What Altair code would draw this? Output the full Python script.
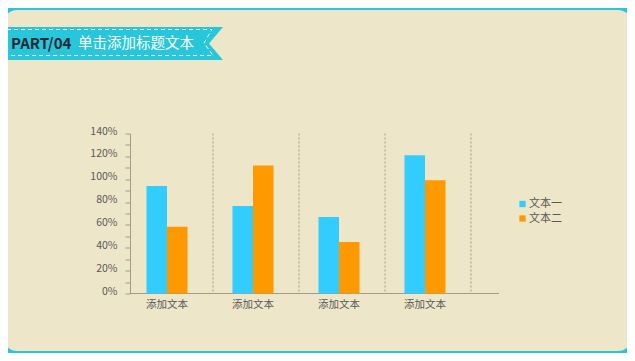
import altair as alt
import pandas as pd

categories = ["添加文本", "添加文本 ", "添加文本  ", "添加文本   "]
series_names = ["文本一", "文本二"]
series1 = [94, 76.5, 67, 121]
series2 = [58.5, 112, 45, 99]
y_ticks = [0, 10, 20, 30, 40, 50, 60, 70, 80, 90, 100, 110, 120, 130, 140]
colors = ["#33CCFF", "#FF9900"]

rows = []
for i, c in enumerate(categories):
    rows.append({"cat": c, "series": series_names[0], "value": series1[i]})
    rows.append({"cat": c, "series": series_names[1], "value": series2[i]})
df = pd.DataFrame(rows)
cat_df = pd.DataFrame({"cat": categories})

FONT = "Noto Sans CJK SC"
CYAN = "#27C6DA"
BEIGE = "#EEE6C9"
AXIS = "#A09C8C"
LABEL = "#595959"

one = alt.Data(values=[{}])

xscale = alt.Scale(domain=categories, range=[-6, 338], paddingInner=0, paddingOuter=0)
xaxis = alt.Axis(title=None, domain=False, ticks=False, labelAngle=0,
                 labelFont=FONT, labelFontSize=10.5, labelColor=LABEL,
                 labelPadding=6, zindex=1, labelExpr="trim(datum.label)")

panel = alt.Chart(one).mark_rect(color=BEIGE, cornerRadius=13).encode(
    x=alt.value(-126), x2=alt.value(501), y=alt.value(-123.5), y2=alt.value(217.5)
)

ribbon = alt.Chart(one).mark_point(
    shape="M0,0 H223 L209,16.5 L223,33 H0 Z", size=4, filled=True, fill=CYAN,
    opacity=1, strokeWidth=0
).encode(x=alt.value(-130), y=alt.value(-106.5))

ribbon_dash = alt.Chart(one).mark_point(
    shape="M0,2.5 H212 L204,16 L213,28.5 H0", size=4, filled=False, stroke="white",
    strokeWidth=1, strokeDash=[4, 3], opacity=1
).encode(x=alt.value(-130), y=alt.value(-106.5))

t1 = alt.Chart(one).mark_text(
    text="PART/04", font=FONT, fontSize=15, fontWeight="bold", color="#1F2A35",
    align="left", baseline="middle"
).encode(x=alt.value(-119), y=alt.value(-90))

t2 = alt.Chart(one).mark_text(
    text="单击添加标题文本", font=FONT, fontSize=14.5, color="white",
    align="left", baseline="middle"
).encode(x=alt.value(-52), y=alt.value(-90))

vlines = alt.Chart(cat_df).mark_rule(
    color=AXIS, strokeDash=[2, 2], strokeWidth=1, xOffset=3
).encode(
    x=alt.X("cat:N", scale=xscale, sort=categories, bandPosition=1, axis=xaxis),
    y=alt.value(0), y2=alt.value(160)
)

baseline = alt.Chart(one).mark_rule(color=AXIS, strokeWidth=1).encode(
    x=alt.value(0), x2=alt.value(369), y=alt.value(160)
)

bars = alt.Chart(df).mark_bar(strokeWidth=0).encode(
    x=alt.X("cat:N", scale=xscale, sort=categories, axis=xaxis),
    xOffset=alt.XOffset("series:N", sort=series_names,
                        scale=alt.Scale(domain=series_names, range=[22.5, 63.5],
                                        paddingInner=0, paddingOuter=0)),
    y=alt.Y("value:Q", scale=alt.Scale(domain=[0, 140], nice=False),
            axis=alt.Axis(title=None, values=y_ticks, grid=False,
                          domainColor=AXIS, tickColor=AXIS, tickSize=5,
                          labelFont=FONT, labelFontSize=10.5, labelColor=LABEL,
                          labelPadding=8, labelOffset=-2.5, zindex=1,
                          labelExpr="datum.value % 20 == 0 ? datum.value + '%' : ''")),
    color=alt.Color("series:N", sort=series_names,
                    scale=alt.Scale(domain=series_names, range=colors),
                    legend=alt.Legend(title=None, orient="none", legendX=387, legendY=65,
                                      symbolType="square", symbolSize=40,
                                      symbolStrokeWidth=0, labelFont=FONT,
                                      labelFontSize=11, labelColor=LABEL,
                                      labelOffset=1, rowPadding=2.5, zindex=1)),
)

chart = alt.layer(panel, ribbon, ribbon_dash, t1, t2, vlines, baseline, bars).properties(
    width=369, height=160,
    padding={"left": 122, "top": 125.5, "right": 128, "bottom": 59.5},
    autosize=alt.AutoSizeParams(type="none"),
    background=CYAN,
).configure_view(stroke=None)

chart.save("out.html", embed_options={"renderer": "svg", "actions": False})
